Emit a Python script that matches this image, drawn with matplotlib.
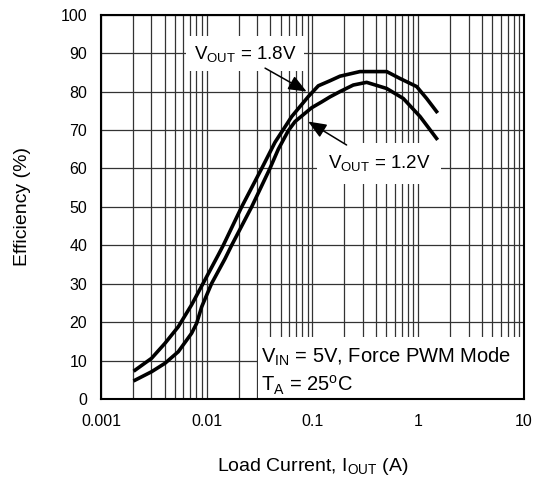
import numpy as np
import matplotlib.pyplot as plt
from matplotlib.patches import Rectangle

plt.rcParams['font.family'] = ['Liberation Sans', 'DejaVu Sans']
plt.rcParams['mathtext.fontset'] = 'custom'
plt.rcParams['mathtext.rm'] = 'Liberation Sans'
plt.rcParams['mathtext.it'] = 'Liberation Sans:italic'

# ── Дані ──────────────────────────────────────────────────────────────────
i_18 = [0.0021, 0.00301, 0.00403, 0.00538, 0.00719, 0.00962, 0.01286, 0.01434,
        0.0214, 0.0331, 0.0442, 0.0636, 0.0913, 0.1135, 0.146, 0.182,
        0.281, 0.503, 0.672, 0.966, 1.2, 1.49]
eff_18 = [7.5, 10.6, 14.5, 18.8, 24.5, 31, 37.5, 40,
          50, 60, 66.8, 73.5, 78.7, 81.5, 82.8, 84,
          85.2, 85.2, 83.4, 81.3, 78.2, 74.8]

i_12 = [0.0021, 0.00301, 0.00403, 0.00538, 0.00719, 0.00803, 0.00896, 0.01114,
        0.01489, 0.0172, 0.0266, 0.0396, 0.0475, 0.059, 0.0684, 0.0983, 0.122,
        0.146, 0.182, 0.243, 0.325, 0.503, 0.722, 1.04, 1.49]
eff_12 = [4.9, 7.1, 9.3, 12.3, 17.1, 19.7, 24, 30.1,
          36.5, 40, 50, 60, 65, 69.8, 72.2, 75.8, 77.3,
          78.6, 80, 81.7, 82.4, 80.8, 78.2, 73.5, 67.8]

x_ticks = [0.001, 0.01, 0.1, 1, 10]
x_labels = ['0.001', '0.01', '0.1', '1', '10']
y_ticks = list(range(0, 101, 10))

# ── Побудова ──────────────────────────────────────────────────────────────
fig = plt.figure(figsize=(5.34, 4.79), dpi=100)
fig.patch.set_facecolor('white')
ax = fig.add_axes([0.1891, 0.167, 0.7922, 0.8023])

ax.set_xscale('log')
ax.set_xlim(0.001, 10)
ax.set_ylim(0, 100)
ax.set_xticks(x_ticks)
ax.set_xticklabels(x_labels)
ax.set_yticks(y_ticks)
ax.tick_params(which='both', length=0, labelsize=11.5)
ax.tick_params(axis='y', pad=10)
ax.tick_params(axis='x', pad=11)
ax.grid(which='both', color='#333333', lw=0.9)
ax.set_axisbelow(True)
for s in ax.spines.values():
    s.set_linewidth(1.5)

ax.plot(i_18, eff_18, color='black', lw=2.6, zorder=3, solid_joinstyle='round')
ax.plot(i_12, eff_12, color='black', lw=2.6, zorder=3, solid_joinstyle='round')

arrow = dict(arrowstyle='-|>,head_length=1.1,head_width=0.45',
             color='black', lw=1.1, shrinkA=0, shrinkB=0)

# Підписи кривих
ax.text(0.023, 89.8, r'V$_{\mathrm{OUT}}$ = 1.8V', ha='center', va='center',
        fontsize=13.5, zorder=4,
        bbox=dict(boxstyle='square,pad=0.4', fc='white', ec='none'))
ax.annotate('', xy=(0.088, 80), xytext=(0.0356, 86.1),
            arrowprops=arrow, zorder=5)

ax.text(0.425, 61.3, r'V$_{\mathrm{OUT}}$ = 1.2V', ha='center', va='center',
        fontsize=13.5, zorder=4,
        bbox=dict(boxstyle='square,pad=0.55', fc='white', ec='none'))
ax.annotate('', xy=(0.091, 72.2), xytext=(0.21, 66.1),
            arrowprops=arrow, zorder=5)

# Умови вимірювання
ax.add_patch(Rectangle((0.371, 0), 0.629, 0.161, transform=ax.transAxes,
                       fc='white', ec='none', zorder=2))
ax.text(0.378, 0.110, r'V$_{\mathrm{IN}}$ = 5V, Force PWM Mode',
        transform=ax.transAxes, ha='left', va='center', fontsize=14.5, zorder=4)
ax.text(0.378, 0.036, r'T$_{\mathrm{A}}$ = 25$^{\mathrm{o}}$C',
        transform=ax.transAxes, ha='left', va='center', fontsize=14.5, zorder=4)

ax.set_xlabel(r'Load Current, I$_{\mathrm{OUT}}$ (A)', fontsize=14, labelpad=19)
ax.set_ylabel('Efficiency (%)', fontsize=14, labelpad=21)

plt.savefig('out.png', dpi=100, facecolor='white')
